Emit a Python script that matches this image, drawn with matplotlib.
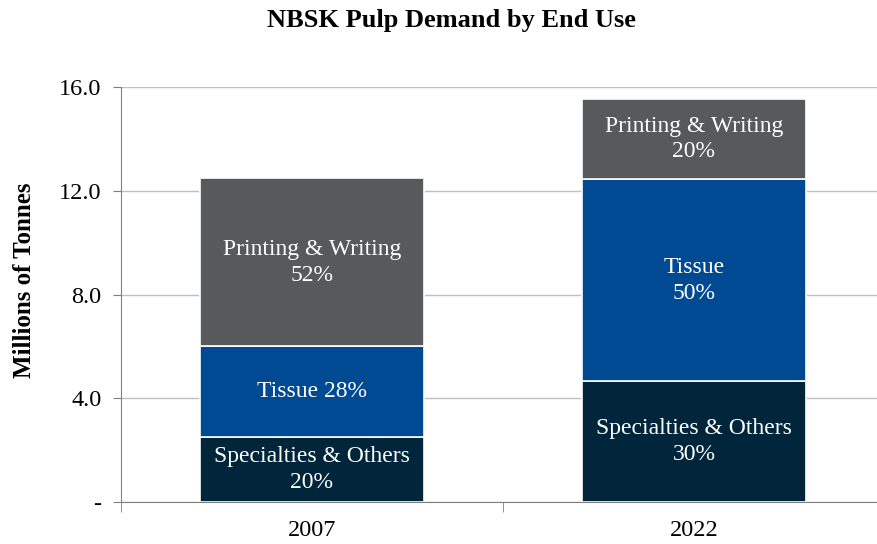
import matplotlib.pyplot as plt
import numpy as np

plt.rcParams['font.family'] = ['Liberation Serif', 'DejaVu Serif']

years = ["2007", "2022"]
specialties = [2.5, 4.65]
tissue = [3.5, 7.8]
printing = [6.5, 3.1]
spec_labels = ["Specialties & Others\n20%", "Specialties & Others\n30%"]
tissue_labels = ["Tissue 28%", "Tissue\n50%"]
print_labels = ["Printing & Writing\n52%", "Printing & Writing\n20%"]

colors = ["#01263C", "#004A94", "#58595B"]

fig, ax = plt.subplots(figsize=(8.77, 5.44), dpi=100)
fig.subplots_adjust(left=0.138, right=1.009, top=0.84, bottom=0.077)

x = np.arange(len(years))
w = 0.587
bottom = np.zeros(len(years))
for vals, labs, c in [(specialties, spec_labels, colors[0]),
                      (tissue, tissue_labels, colors[1]),
                      (printing, print_labels, colors[2])]:
    bars = ax.bar(x, vals, w, bottom=bottom, color=c, edgecolor="white", linewidth=1.2, zorder=3)
    for i, b in enumerate(bars):
        ax.text(b.get_x() + b.get_width() / 2, bottom[i] + vals[i] / 2, labs[i],
                ha="center", va="center", color="white", fontsize=17, linespacing=1.3, zorder=4)
    bottom = bottom + np.array(vals)

ax.set_xlim(-0.5, 1.5)
ax.set_ylim(0, 16)
ax.set_yticks([0, 4, 8, 12, 16])
ax.set_yticklabels(["-", "4.0", "8.0", "12.0", "16.0"], fontsize=17.5)
ax.set_xticks(x)
ax.set_xticklabels(years, fontsize=17.5)
ax.tick_params(axis="x", length=0, pad=13)
ax.set_xticks([-0.5, 0.5, 1.5], minor=True)
ax.tick_params(axis="x", which="minor", length=7, color="#808080")
ax.tick_params(axis="y", length=6, color="#808080", pad=8)
ax.yaxis.grid(True, color="#c0c0c0", linewidth=1, zorder=0)
ax.set_axisbelow(True)
for s in ["top", "right"]:
    ax.spines[s].set_visible(False)
for s in ["left", "bottom"]:
    ax.spines[s].set_color("#808080")
ax.set_ylabel("Millions of Tonnes", fontsize=18, fontweight="bold")
ax.yaxis.set_label_coords(-0.111, 0.535)
fig.text(0.515, 0.962, "NBSK Pulp Demand by End Use", fontsize=19, fontweight="bold",
         ha="center", va="center")

fig.savefig("out.png", dpi=100)
